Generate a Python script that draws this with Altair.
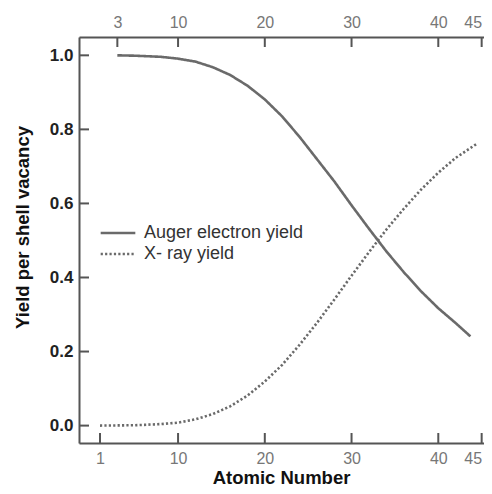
import altair as alt
import pandas as pd

# Data
auger_z = [3, 5, 8, 10, 12, 14, 16, 18, 20, 22, 24, 26, 28, 30, 32, 34, 36, 38, 40, 42, 43.7]
auger_y = [1.0, 0.999, 0.996, 0.991, 0.983, 0.968, 0.947, 0.918, 0.881, 0.835, 0.78, 0.72,
           0.66, 0.595, 0.532, 0.471, 0.415, 0.363, 0.317, 0.277, 0.241]
xray_z = [1, 5, 8, 10, 12, 14, 16, 18, 20, 22, 24, 26, 28, 30, 32, 34, 36, 38, 40, 42, 44.5]
xray_y = [0.0, 0.001, 0.004, 0.008, 0.017, 0.031, 0.052, 0.081, 0.119, 0.164, 0.218, 0.277,
          0.34, 0.405, 0.468, 0.529, 0.585, 0.637, 0.683, 0.723, 0.762]
series_names = ["Auger electron yield", "X- ray yield"]
bottom_ticks = [1, 10, 20, 30, 40, 45]
top_ticks = [3, 10, 20, 30, 40, 45]
y_ticks = [0.0, 0.2, 0.4, 0.6, 0.8, 1.0]

df = pd.concat([
    pd.DataFrame({"z": auger_z, "y": auger_y, "s": series_names[0]}),
    pd.DataFrame({"z": xray_z, "y": xray_y, "s": series_names[1]}),
])
bt = pd.DataFrame({"z": bottom_ticks})
tt = pd.DataFrame({"z": top_ticks})
yt = pd.DataFrame({"y": y_ticks})

W, H = 405, 406
FONT = "Liberation Sans"
GREY = "#6a6a6a"
AXC = "#555555"

xs = alt.Scale(domain=[-1.42, 45.27], nice=False, zero=False)
ys = alt.Scale(domain=[-0.047, 1.0495], nice=False, zero=False)

y_axis = alt.Axis(
    values=y_ticks, format=".1f", ticks=False, grid=False, labelFont=FONT,
    labelFontSize=17, labelFontWeight="bold", labelColor="#222222", labelPadding=6,
    domainColor=AXC, domainWidth=2, title="Yield per shell vacancy", titleFont=FONT,
    titleFontSize=18.5, titleFontWeight="bold", titleColor="#111111",
    titleX=-51, titleY=190, titleAlign="center", titleBaseline="alphabetic", titleAngle=270,
    labelFlush=False)

x_axis = alt.Axis(
    values=bottom_ticks, ticks=False, grid=False, labelFont=FONT, labelFontSize=16,
    labelColor="#777777", labelPadding=7, domainColor=AXC, domainWidth=2,
    title="Atomic Number", titleFont=FONT, titleFontSize=18.5, titleFontWeight="bold",
    titleColor="#111111", titleX=202, titleY=40, titleAlign="center",
    titleBaseline="alphabetic", labelFlush=5)

lines = alt.Chart(df).mark_line(color=GREY, strokeWidth=2.6, clip=True).encode(
    x=alt.X("z:Q", scale=xs, axis=x_axis),
    y=alt.Y("y:Q", scale=ys, axis=y_axis),
    strokeDash=alt.StrokeDash("s:N", scale=alt.Scale(domain=series_names, range=[[1, 0], [2.2, 2.2]]),
                              legend=alt.Legend(
                                  title=None, orient="none", legendX=29, legendY=186,
                                  symbolType="M-2,0H2", symbolSize=300, symbolStrokeWidth=2.6,
                                  symbolStrokeColor=GREY, labelFont=FONT, labelFontSize=18,
                                  labelColor="#333333", labelOffset=16, rowPadding=2, padding=0)),
)

top_axis = alt.Chart(tt).mark_point(opacity=0).encode(
    x=alt.X("z:Q", scale=xs, axis=alt.Axis(
        orient="top", values=top_ticks, ticks=False, grid=False, labelFont=FONT,
        labelFontSize=16, labelColor="#777777", labelPadding=7, domainColor=AXC,
        domainWidth=2, title=None, labelFlush=5)),
)

bt_rules = alt.Chart(bt).mark_rule(color=AXC, strokeWidth=2).encode(
    x=alt.X("z:Q", scale=xs, axis=None), y=alt.value(H - 10), y2=alt.value(H))
tt_rules = alt.Chart(tt).mark_rule(color=AXC, strokeWidth=2).encode(
    x=alt.X("z:Q", scale=xs, axis=None), y=alt.value(0), y2=alt.value(10))
yt_rules = alt.Chart(yt).mark_rule(color=AXC, strokeWidth=2).encode(
    y=alt.Y("y:Q", scale=ys, axis=y_axis), x=alt.value(0), x2=alt.value(10))

chart = alt.layer(lines, top_axis, bt_rules, tt_rules, yt_rules).resolve_scale(
    x="independent").properties(
    width=W, height=H,
    autosize=alt.AutoSizeParams(type="none"),
    padding={"left": 71, "top": 29, "right": 0, "bottom": 43},
).configure_view(stroke=None).configure(background="white")

chart.save("out.html", embed_options={"renderer": "svg", "actions": False})
